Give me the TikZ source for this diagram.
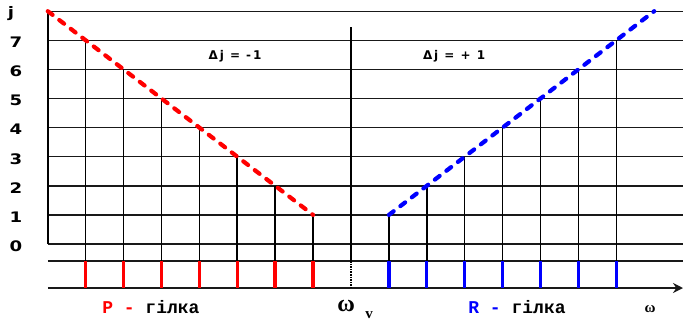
\documentclass[tikz,border=0pt]{standalone}
\usepackage{fontspec}
\setsansfont{DejaVu Sans}
\setmonofont{Liberation Mono}
\newfontfamily\omegafont{Liberation Serif}
\newfontfamily\lvlfont{DejaVu Sans}[FakeStretch=1.25]
\usetikzlibrary{arrows.meta}
\definecolor{cpbr}{HTML}{FF0000}
\definecolor{crbr}{HTML}{0000FF}
\tikzset{
  every picture/.style={font=\sffamily\bfseries},
  grid/.style={draw=black!90, line width=1.4pt},
  rung/.style={draw=black, line width=1.6pt},
  bar/.style={draw=#1, line width=3.4pt},
  branch/.style={draw=#1, line width=4.2pt, line cap=round, dash pattern=on 6pt off 8.5pt},
  lvl/.style={font=\lvlfont\bfseries\fontsize{14.5}{14.5}\selectfont, inner sep=0pt},
  dj/.style={font=\sffamily\bfseries\fontsize{12}{12}\selectfont\addfontfeatures{LetterSpace=16}, inner sep=0pt},
  gilka/.style={font=\ttfamily\bfseries\fontsize{18}{18}\selectfont, inner sep=0pt},
  om/.style={font=\omegafont\bfseries\fontsize{#1}{#1}\selectfont, inner sep=0pt},
}

\begin{document}
\begin{tikzpicture}[x=37.9pt, y=29.1pt]
  \useasboundingbox (-9.261,-2.680) rectangle (8.760,8.385);
  % rotational levels
  \foreach \j in {0,...,8} \draw[grid] (-8,\j) -- (8.76,\j);
  \draw[grid] (-8,-0.584) -- (8.76,-0.584);
  \draw[grid, -{Stealth[length=10pt, width=10pt]}] (-8,-1.512) -- (8.76,-1.512);
  \draw[rung] (-8,0) -- (-8,8);
  % transitions, P left and R right
  \foreach \k in {1,...,7} {
    \draw[rung] (-\k,\k) -- (-\k,-0.584);
    \draw[bar=cpbr] (-\k,-0.584) -- (-\k,-1.512);
    \draw[rung] (\k,\k) -- (\k,-0.584);
    \draw[bar=crbr] (\k,-0.584) -- (\k,-1.512);
  }
  \draw[rung] (0,7.457) -- (0,-0.584);
  \draw[line width=2pt, dash pattern=on 1.6pt off 1pt] (0,-0.584) -- (0,-1.512);
  \draw[branch=cpbr] (-8,8) -- (-1,1);
  \draw[branch=crbr] (1,1) -- (8,8);
  % labels
  \node[lvl] (jlab) at (-8.97,7.93) {j};
  \foreach \j in {0,...,7} \node[lvl] (lv\j) at (-8.84,\j-0.07) {\j};
  \node[dj] (djm) at (-3.06,6.46) {Δj = -1};
  \node[dj] (djp) at (2.72,6.46) {Δj = + 1};
  \node[gilka] (pbr) at (-5.28,-2.165) {\textcolor{cpbr}{P -} гілка};
  \node[gilka] (rbr) at (4.38,-2.165) {\textcolor{crbr}{R -} гілка};
  \node[om=24] (omv) at (-0.13,-2.13) {ω};
  \node[om=15] (omvsub) at (0.475,-2.44) {v};
  \node[om=15] (omax) at (7.89,-2.23) {ω};
\end{tikzpicture}
\end{document}
